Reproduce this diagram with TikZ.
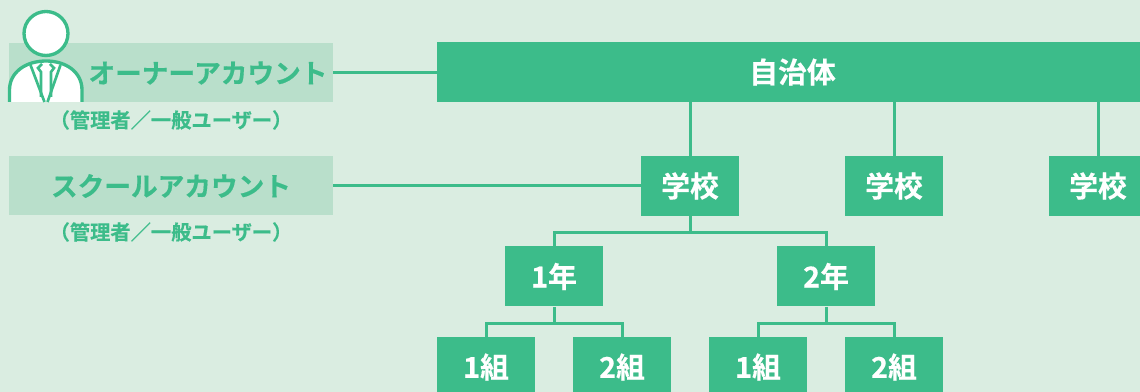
\documentclass[tikz,border=0pt]{standalone}
\usepackage{fontspec}
\setmainfont{Noto Sans CJK JP}[BoldFont={Noto Sans CJK JP Bold},BoldFeatures={FakeBold=0.4}]
\definecolor{bgc}{HTML}{DAEDE1}
\definecolor{grn}{HTML}{3CBC8A}
\definecolor{band}{HTML}{B9DFCB}
\tikzset{
 x=0.75pt,y=-0.75pt,
 box/.style={fill=grn,draw=none,text=white,font=\bfseries\fontsize{21.6}{22}\selectfont,inner sep=0,anchor=center},
 smallbox/.style={box,minimum width=73.5pt,minimum height=45pt},
 conn/.style={draw=grn,line width=2.25pt},
 bandlabel/.style={text=grn,font=\bfseries\fontsize{20}{20}\selectfont,inner sep=0},
 sublabel/.style={text=grn,font=\bfseries\fontsize{15.2}{16}\selectfont,inner sep=0},
 icon/.style={draw=grn,line width=2.5pt,fill=white},
 iconline/.style={draw=grn,line width=2pt,line join=miter},
}
\newcommand{\bx}[1]{\raisebox{-1.2pt}{#1}}
\begin{document}
\begin{tikzpicture}
\path[use as bounding box,fill=bgc] (0,0) rectangle (1140,392);
\begin{scope}
\clip (0,0) rectangle (1140,392);
% bands
\path[fill=band] (9,43) rectangle (333,102);
\path[fill=band] (9,156) rectangle (333,215);
\coordinate (ownerR) at (333,72.5);
\coordinate (schoolR) at (333,185.5);
% junction levels
\coordinate (j0) at (690,233);
\coordinate (j1) at (554,324);
\coordinate (j2) at (826,324);
% top box (runs past the right edge)
\node[box,minimum width=533.25pt,minimum height=45pt] (city) at (792.5,72) {\bx{自治体}};
\node[smallbox] (s1) at (690,186) {\bx{学校}};
\node[smallbox] (s2) at (894,186) {\bx{学校}};
\node[smallbox] (s3) at (1098,186) {\bx{学校}};
\node[smallbox] (g1) at (554,276.5) {\bx{1年}};
\node[smallbox] (g2) at (826,276.5) {\bx{2年}};
\node[smallbox] (c1) at (486,367) {\bx{1組}};
\node[smallbox] (c2) at (622,367) {\bx{2組}};
\node[smallbox] (c3) at (758,367) {\bx{1組}};
\node[smallbox] (c4) at (894,367) {\bx{2組}};
\draw[conn] (ownerR) -- (ownerR -| city.west);
\draw[conn] (schoolR) -- (schoolR -| s1.west);
\draw[conn] (s1.north) -- (s1.north |- city.south);
\draw[conn] (s2.north) -- (s2.north |- city.south);
\draw[conn] (s3.north) -- (s3.north |- city.south);
\draw[conn] (s1.south) -- (j0);
\draw[conn] (g1.north) |- (j0) -| (g2.north);
\draw[conn] (g1.south) -- (j1);
\draw[conn] (c1.north) |- (j1) -| (c2.north);
\draw[conn] (g2.south) -- (j2);
\draw[conn] (c3.north) |- (j2) -| (c4.north);
\end{scope}
% labels
\node[bandlabel] (owner) at (208,73) {オーナーアカウント};
\node[bandlabel] (school) at (171,186) {スクールアカウント};
\node[sublabel] (sub1) at (171,120) {（管理者／一般ユーザー）};
\node[sublabel] (sub2) at (171,232) {（管理者／一般ユーザー）};
% person icon
\draw[icon] (9.5,102) -- (9.5,90) .. controls (9.5,72) and (26,61) .. (46,61) .. controls (66,61) and (82,72) .. (82,90) -- (82,102);
\draw[icon] (46,33.5) circle [radius=22];
\draw[iconline] (30.5,65) -- (44.5,102);
\draw[iconline] (60.5,65) -- (47.5,102);
\draw[iconline] (42,64) -- (38,68) -- (41,72) -- (41,97);
\draw[iconline] (50,64) -- (54,68) -- (51,72) -- (51,97);
\end{tikzpicture}
\end{document}
